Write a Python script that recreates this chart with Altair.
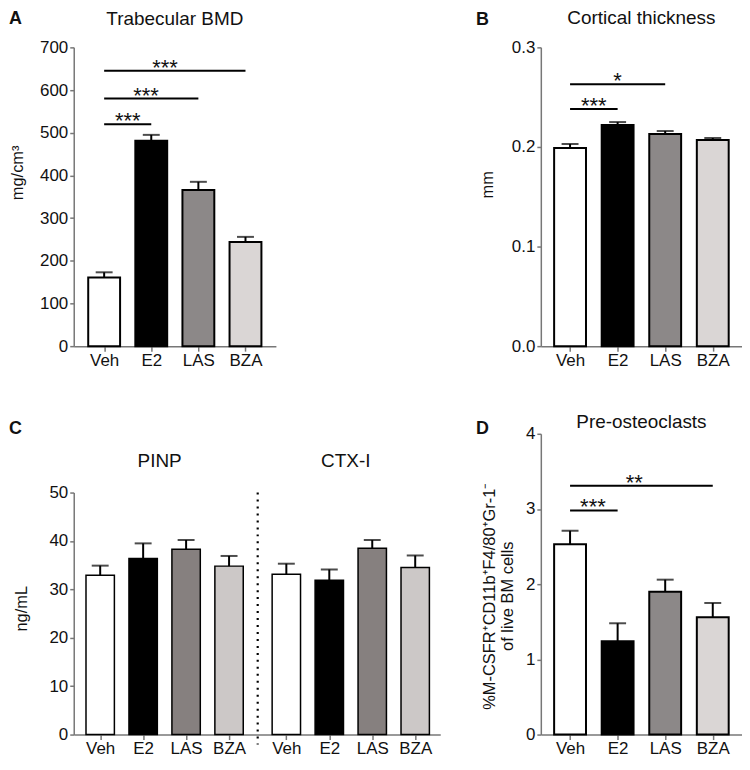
import json
import altair as alt
import pandas as pd

# ---------------- data ----------------
groups = ["Veh", "E2", "LAS", "BZA"]

bmd_mean = [161, 481, 366, 244]
bmd_sem = [12, 14, 19, 12]

cort_mean = [0.199, 0.222, 0.213, 0.207]
cort_sem = [0.004, 0.003, 0.003, 0.002]

pinp_mean = [32.9, 36.4, 38.3, 34.8]
pinp_sem = [2.0, 3.1, 1.9, 2.1]
ctx_mean = [33.1, 31.9, 38.5, 34.5]
ctx_sem = [2.2, 2.2, 1.7, 2.5]
marker_names = ["PINP", "CTX-I"]

preoc_mean = [2.53, 1.24, 1.90, 1.56]
preoc_sem = [0.18, 0.24, 0.16, 0.19]

# significance brackets
bmd_sig_from = ["Veh", "Veh", "Veh"]
bmd_sig_to = ["E2", "LAS", "BZA"]
bmd_sig_y = [520, 580, 645]
bmd_sig_label = ["***", "***", "***"]

cort_sig_from = ["Veh", "Veh"]
cort_sig_to = ["E2", "LAS"]
cort_sig_y = [0.238, 0.263]
cort_sig_label = ["***", "*"]

preoc_sig_from = ["Veh", "Veh"]
preoc_sig_to = ["E2", "BZA"]
preoc_sig_y = [2.98, 3.31]
preoc_sig_label = ["***", "**"]

# ---------------- style ----------------
FONT = "Liberation Sans"
AX = "#777777"
TXT = "#111111"
fills_main = ["#ffffff", "#000000", "#8c8888", "#dad6d5"]
fills_c = ["#ffffff", "#000000", "#86807f", "#ccc8c7"]
H1 = 300
H2 = 302
LETTER_X = -65
YT_SIZE = 16.5
LABEL_EXPR = json.dumps(groups) + "[datum.value]"
AXIS_TEXT = dict(labelFont=FONT, labelFontSize=17, labelColor=TXT, title=None)


def sig_layers(xs, ys, frm, to, yv, lab, frac):
    idx = {g: i for i, g in enumerate(groups)}
    df = pd.DataFrame({
        "x1": [idx[f] for f in frm],
        "x2": [idx[t] for t in to],
        "y": yv,
        "label": lab,
    })
    df["sx"] = [a + (b - a) * f for a, b, f in zip(df["x1"], df["x2"], frac)]
    base = alt.Chart(df)
    line = base.mark_rule(color="black", strokeWidth=2).encode(
        x=alt.X("x1:Q", scale=xs),
        x2="x2:Q",
        y=alt.Y("y:Q", scale=ys),
    )
    star = base.mark_text(fontSize=22, baseline="alphabetic", dy=4, color=TXT, font=FONT).encode(
        x=alt.X("sx:Q", scale=xs),
        y=alt.Y("y:Q", scale=ys),
        text="label:N",
    )
    return [line, star]


def bar_layers(df, xs, ys, xaxis, yaxis, bar_w, stroke_w=2):
    base = alt.Chart(df)
    bars = base.mark_bar(orient="vertical", size=bar_w - stroke_w, stroke="black",
                         strokeWidth=stroke_w).encode(
        x=alt.X("pos:Q", scale=xs, axis=xaxis),
        y=alt.Y("mean:Q", scale=ys, axis=yaxis),
        fill=alt.Fill("fill:N", scale=None),
    )
    err = base.mark_rule(color="black", strokeWidth=2).encode(
        x=alt.X("pos:Q", scale=xs),
        y=alt.Y("mean:Q", scale=ys),
        y2="hi:Q",
    )
    cap = base.mark_tick(orient="horizontal", size=17, thickness=2, color="black").encode(
        x=alt.X("pos:Q", scale=xs),
        y=alt.Y("hi:Q", scale=ys),
    )
    return [bars, err, cap]


def text_at(txt, x, y, size, bold=False, align="left", angle=0, baseline="middle"):
    return alt.Chart(pd.DataFrame({"t": [txt]})).mark_text(
        fontSize=size, fontWeight="bold" if bold else "normal", align=align,
        baseline=baseline, color=TXT, font=FONT, angle=angle,
    ).encode(x=alt.value(x), y=alt.value(y), text="t:N")


def ytitle_layers(lines, offsets, y):
    return [text_at(t, off, y, YT_SIZE, align="center", angle=270, baseline="alphabetic")
            for t, off in zip(lines, offsets)]


def simple_panel(letter, title, means, sems, fills, width, height, ydom, yticks, yfmt,
                 ytitle, ytitle_off, ytitle_frac, sig, frac, xdom, letter_y, title_y):
    df = pd.DataFrame({
        "pos": list(range(len(groups))),
        "mean": means,
        "hi": [m + s for m, s in zip(means, sems)],
        "fill": fills,
    })
    xs = alt.Scale(domain=xdom, nice=False, zero=False)
    ys = alt.Scale(domain=ydom, nice=False, zero=True)
    xaxis = alt.Axis(values=list(range(len(groups))), labelExpr=LABEL_EXPR, **AXIS_TEXT)
    yaxis = alt.Axis(values=yticks, format=yfmt, **AXIS_TEXT)
    layers = bar_layers(df, xs, ys, xaxis, yaxis, 34)
    layers += sig_layers(xs, ys, *sig, frac)
    layers += ytitle_layers(ytitle, ytitle_off, height * ytitle_frac)
    layers.append(text_at(letter, LETTER_X, letter_y, 18, bold=True))
    layers.append(text_at(title, width / 2, title_y, 19, align="center"))
    return alt.layer(*layers).properties(width=width, height=height)


# ---------------- panel A ----------------
panel_a = simple_panel(
    "A", "Trabecular BMD", bmd_mean, bmd_sem, fills_main, 203, H1,
    [0, 700], list(range(0, 701, 100)), "d", ["mg/cm³"], [-51], 0.42,
    (bmd_sig_from, bmd_sig_to, bmd_sig_y, bmd_sig_label), [0.5, 0.445, 0.43],
    [-0.54, 3.54], -28, -28,
)

# ---------------- panel B ----------------
panel_b = simple_panel(
    "B", "Cortical thickness", cort_mean, cort_sem, fills_main, 202, H1,
    [0, 0.3], [0, 0.1, 0.2, 0.3], ".1f", ["mm"], [-48], 0.46,
    (cort_sig_from, cort_sig_to, cort_sig_y, cort_sig_label), [0.5, 0.5],
    [-0.51, 3.51], -27, -29,
)

# ---------------- panel D ----------------
panel_d = simple_panel(
    "D", "Pre-osteoclasts", preoc_mean, preoc_sem, fills_main, 202, H2,
    [0, 4], [0, 1, 2, 3, 4], "d",
    ["%M-CSFR⁺CD11b⁺F4/80⁺Gr-1⁻", "of live BM cells"], [-46, -28], 0.54,
    (preoc_sig_from, preoc_sig_to, preoc_sig_y, preoc_sig_label), [0.48, 0.45],
    [-0.51, 3.51], -5, -12,
)

# ---------------- panel C ----------------
C_TOP = round(H2 * 0.196)
c_pos = [3 * i + 13 * g for g in range(2) for i in range(len(groups))]
c_df = pd.DataFrame({
    "pos": c_pos,
    "mean": pinp_mean + ctx_mean,
    "hi": [m + s for m, s in zip(pinp_mean + ctx_mean, pinp_sem + ctx_sem)],
    "fill": fills_c + fills_c,
})
c_xs = alt.Scale(domain=[-1.5, 23.4], nice=False, zero=False)
c_ys = alt.Scale(domain=[0, 50], nice=False, zero=True, range=[H2, C_TOP])
c_xaxis = alt.Axis(values=c_pos, labelExpr=json.dumps(groups) + "[(datum.value % 13) / 3]",
                   **AXIS_TEXT)
c_yaxis = alt.Axis(values=[0, 10, 20, 30, 40, 50], **AXIS_TEXT)
c_layers = bar_layers(c_df, c_xs, c_ys, c_xaxis, c_yaxis, 30, stroke_w=1.5)

sep_df = pd.DataFrame({"pos": [(c_pos[3] + c_pos[4]) / 2]})
sep = alt.Chart(sep_df).mark_rule(color="black", strokeWidth=2.2, strokeDash=[2, 5]).encode(
    x=alt.X("pos:Q", scale=c_xs),
    y=alt.value(C_TOP),
    y2=alt.value(H2 + 10),
)
grp_df = pd.DataFrame({
    "pos": [sum(c_pos[:4]) / 4, sum(c_pos[4:]) / 4],
    "label": marker_names,
})
grp = alt.Chart(grp_df).mark_text(fontSize=19, color=TXT, font=FONT, baseline="middle",
                                  dx=-5).encode(
    x=alt.X("pos:Q", scale=c_xs),
    y=alt.value(27),
    text="label:N",
)
panel_c = alt.layer(
    *c_layers, sep, grp,
    *ytitle_layers(["ng/mL"], [-47], C_TOP + (H2 - C_TOP) * 0.48),
    text_at("C", LETTER_X, -5, 18, bold=True),
).properties(width=368, height=H2)

chart = alt.concat(
    panel_a, panel_b, panel_c, panel_d,
    columns=2, spacing={"row": 88, "column": 101}, bounds="flush", align="each",
).properties(
    padding={"left": 1, "top": 0, "right": 0, "bottom": 0}
).configure(
    font=FONT
).configure_view(
    stroke=None
).configure_axis(
    grid=False, domainColor=AX, tickColor=AX, domainWidth=1.5, tickWidth=1.5,
).configure_axisY(
    tickSize=4, labelPadding=2
).configure_axisX(
    tickSize=5, labelPadding=1
)

chart.save("out.html", embed_options={"renderer": "svg", "actions": False})
